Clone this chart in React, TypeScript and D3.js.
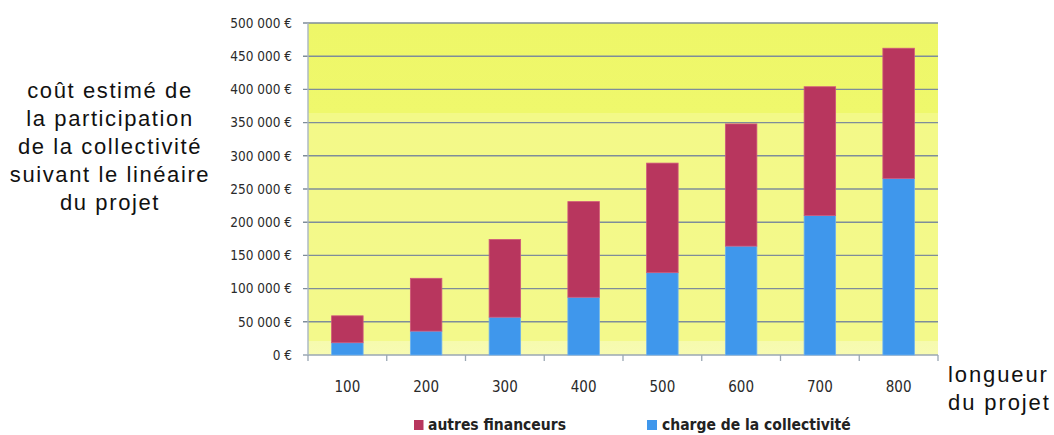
import React from "react";
import * as d3 from "d3";

const categories = ["100", "200", "300", "400", "500", "600", "700", "800"];
const chargeCollectivite = [18500, 36000, 57000, 87000, 124000, 164000, 210000, 266000];
const autresFinanceurs = [40500, 79500, 117000, 144000, 165000, 184000, 194000, 196000];
const yTicks = [0, 50000, 100000, 150000, 200000, 250000, 300000, 350000, 400000, 450000, 500000];
const seriesNames = ["charge de la collectivité", "autres financeurs"];
const leftTitle = ["coût estimé de", "la participation", "de la collectivité", "suivant le linéaire", "du projet"];
const rightTitle = ["longueur", "du projet"];

const W = 1054;
const H = 435;
const plot = { left: 308, right: 938, top: 23, bottom: 355 };
const RED = "#B8365E";
const BLUE = "#3F97EC";
const AXIS_FONT = "'DejaVu Sans Condensed', 'Liberation Sans Narrow', 'Arial Narrow', sans-serif";
const TITLE_FONT = "'Liberation Sans', Arial, sans-serif";

const fmt = (v: number) => (v === 0 ? "0 €" : d3.format(",")(v).replace(/,/g, " ") + " €");

export default function App() {
  const x = d3
    .scaleBand<string>()
    .domain(categories)
    .range([plot.left, plot.right])
    .paddingInner(0.6)
    .paddingOuter(0.3);
  const y = d3.scaleLinear().domain([0, 500000]).range([plot.bottom, plot.top]);

  const rows = categories.map((c, i) => ({
    cat: c,
    charge: chargeCollectivite[i],
    autres: autresFinanceurs[i],
  }));
  const stack = d3.stack<any>().keys(["charge", "autres"])(rows);
  const colors = [BLUE, RED];

  const step = x.step();
  const boundaries = d3.range(categories.length + 1).map((i) => plot.left + i * step);
  const plotH = plot.bottom - plot.top;

  return (
    <div style={{ position: "fixed", left: 0, top: 0, width: W, height: H, background: "#fff" }}>
      <svg width={W} height={H} viewBox={`0 0 ${W} ${H}`}>
        <defs>
          <linearGradient id="bg" x1="0" y1="0" x2="0" y2="1">
            <stop offset="0" stopColor="#EEF768" />
            <stop offset={(113 - plot.top) / plotH} stopColor="#EFF86C" />
            <stop offset={(113 - plot.top) / plotH} stopColor="#F3F988" />
            <stop offset={(341 - plot.top) / plotH} stopColor="#F3F98B" />
            <stop offset={(341 - plot.top) / plotH} stopColor="#F6FAAE" />
            <stop offset="1" stopColor="#F7FBB2" />
          </linearGradient>
        </defs>
        <rect
          x={plot.left}
          y={plot.top}
          width={plot.right - plot.left}
          height={plotH}
          fill="url(#bg)"
        />
        {/* gridlines */}
        {yTicks.map((t) => (
          <line
            key={"g" + t}
            x1={plot.left - 5}
            x2={plot.right}
            y1={y(t)}
            y2={y(t)}
            stroke={t === 0 ? "#9AA7B3" : "#7E8D9A"}
            strokeWidth={1.4}
          />
        ))}
        {/* left axis */}
        <line x1={plot.left} x2={plot.left} y1={plot.top} y2={plot.bottom + 1} stroke="#A8B6C3" strokeWidth={1.4} />
        {/* x ticks */}
        {boundaries.map((bx, i) => (
          <line key={"t" + i} x1={bx} x2={bx} y1={plot.bottom} y2={plot.bottom + 6} stroke="#9AA7B3" strokeWidth={1.3} />
        ))}
        {/* bars */}
        {stack.map((s, si) =>
          s.map((d, i) => (
            <rect
              key={si + "-" + i}
              x={x(categories[i])!}
              y={y(d[1])}
              width={x.bandwidth()}
              height={y(d[0]) - y(d[1])}
              fill={colors[si]}
              stroke={si === 1 ? "#D0577C" : "#6FB2F0"}
              strokeWidth={0.8}
            />
          ))
        )}
        {/* y labels */}
        {yTicks.map((t) => (
          <text
            key={"yl" + t}
            x={292}
            y={y(t)}
            dy="0.36em"
            textAnchor="end"
            fontFamily={AXIS_FONT}
            fontSize={13.5}
            fill="#2a2a2a"
          >
            {fmt(t)}
          </text>
        ))}
        {/* x labels */}
        {categories.map((c) => (
          <text
            key={"xl" + c}
            x={x(c)! + x.bandwidth() / 2}
            y={392}
            textAnchor="middle"
            fontFamily={AXIS_FONT}
            fontSize={15}
            fill="#2a2a2a"
          >
            {c}
          </text>
        ))}
        {/* legend */}
        <rect x={414} y={420} width={9.5} height={10} fill={RED} />
        <text x={428} y={430} fontFamily={AXIS_FONT} fontSize={15.5} fontWeight="bold" fill="#222">
          {seriesNames[1]}
        </text>
        <rect x={647} y={420} width={10} height={10} fill={BLUE} />
        <text x={662} y={430} fontFamily={AXIS_FONT} fontSize={15.5} fontWeight="bold" fill="#222">
          {seriesNames[0]}
        </text>
        {/* left title */}
        {leftTitle.map((l, i) => (
          <text
            key={"lt" + i}
            x={110}
            y={98 + i * 28}
            textAnchor="middle"
            fontFamily={TITLE_FONT}
            fontSize={22}
            letterSpacing={1.6}
            fill="#111"
          >
            {l}
          </text>
        ))}
        {/* right title */}
        {rightTitle.map((l, i) => (
          <text
            key={"rt" + i}
            x={948}
            y={382 + i * 28}
            textAnchor="start"
            fontFamily={TITLE_FONT}
            fontSize={22}
            letterSpacing={1.9}
            fill="#111"
          >
            {l}
          </text>
        ))}
      </svg>
    </div>
  );
}
